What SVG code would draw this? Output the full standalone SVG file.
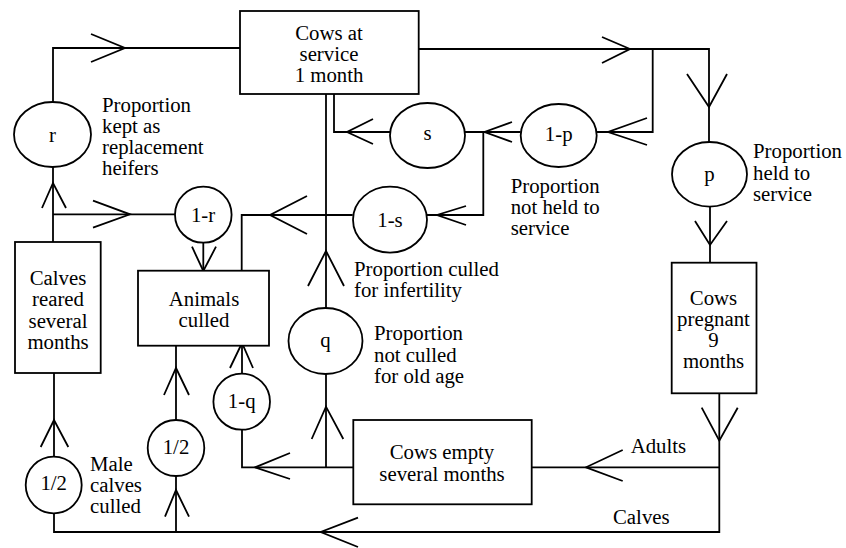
<svg xmlns="http://www.w3.org/2000/svg" width="846" height="548" viewBox="0 0 846 548">
<style>
.s{fill:none;stroke:#000;stroke-width:1.8}
.n{fill:#fff;stroke:#000;stroke-width:1.8}
.c{text-anchor:middle}
.t{font-family:"Liberation Serif","Times New Roman","DejaVu Serif",serif;font-size:20.8px;fill:#000}
</style>
<rect width="846" height="548" fill="#fff"/>
<g id="connectors" class="s">
<path d="M53,102V48H240"/><path d="M91,34L125,48L91,62"/>
<path d="M418.7,49H709V142"/><path d="M602,37L630,49L602,63"/><path d="M687,74L709,107L727,74"/>
<path d="M652.7,49V132H596.7"/><path d="M647,118L608,132L647,145"/>
<path d="M520.7,132H465"/><path d="M512,122L484.5,132L512,142"/>
<path d="M483.3,132V215H427"/><path d="M466,206L437,215L466,225"/>
<path d="M390,132H334V94"/><path d="M373,119L347,132L373,144"/>
<path d="M352.7,215H241.7V270.7"/><path d="M307,196L270,215L307,234"/>
<path d="M326,308V94"/><path d="M308,286L326,251L344,286"/>
<path d="M53,242V167"/><path d="M42,208L53,183L66,208"/>
<path d="M53,214.3H175"/><path d="M93,200.7L130,214.3L93,227.7"/>
<path d="M203.3,242.7V270.7"/><path d="M192,246.7L203.3,271L216,246.7"/>
<path d="M176,420V345.7"/><path d="M164,395L176,368L189,395"/>
<path d="M176,532V476"/><path d="M165,516.7L176,490L189,516.7"/>
<path d="M242,374V345.7"/><path d="M230,368L242,343L253,368"/>
<path d="M353.3,467.3H242V429.7"/><path d="M290,453L255,467.3L290,479"/>
<path d="M326,467.3V374"/><path d="M311.7,439L326,406.7L343.3,439"/>
<path d="M719.3,393.3V532H54V513.3"/><path d="M701.7,407.7L719.3,440.7L737.7,407.7"/><path d="M358,517.7L320.7,532L358,547"/>
<path d="M719.3,467.3H531.7"/><path d="M622.7,450L586,467.3L622.7,481"/>
<path d="M54,456.7V373"/><path d="M40.7,447L54,420L68.3,447"/>
<path d="M710,206.6V262.7"/><path d="M695,221L710,245L727,221"/>
</g>
<g class="t">
<g id="cows-at-service"><rect class="n" x="240" y="11" width="178.7" height="83"/><text class="c" x="329" y="40">Cows at</text><text class="c" x="329" y="61">service</text><text class="c" x="329" y="82">1 month</text></g>
<g id="calves-reared"><rect class="n" x="15" y="242" width="85.7" height="131"/><text class="c" x="58" y="285">Calves</text><text class="c" x="58" y="306">reared</text><text class="c" x="58" y="327.5">several</text><text class="c" x="58" y="348.5">months</text></g>
<g id="animals-culled"><rect class="n" x="138" y="270.7" width="131" height="75"/><text class="c" x="204" y="306">Animals</text><text class="c" x="204" y="327">culled</text></g>
<g id="cows-pregnant"><rect class="n" x="671.7" y="262.7" width="84.8" height="130.6"/><text class="c" x="713.5" y="305">Cows</text><text class="c" x="713.5" y="326">pregnant</text><text class="c" x="713.5" y="347">9</text><text class="c" x="713.5" y="368.3">months</text></g>
<g id="cows-empty"><rect class="n" x="353.3" y="420" width="178.4" height="84.3"/><text class="c" x="442" y="459">Cows empty</text><text class="c" x="442" y="480.5">several months</text></g>
<g id="r"><ellipse class="n" cx="52.5" cy="134.5" rx="38.5" ry="32.5"/><text class="c" x="52.5" y="141.5">r</text></g>
<g id="s"><ellipse class="n" cx="427.5" cy="135.5" rx="37.5" ry="32.5"/><text class="c" x="427.5" y="140">s</text></g>
<g id="one-minus-p"><ellipse class="n" cx="558.7" cy="135.5" rx="38" ry="31.5"/><text class="c" x="558.7" y="141">1-p</text></g>
<g id="p"><ellipse class="n" cx="709.5" cy="174.3" rx="37.5" ry="32.3"/><text class="c" x="709.5" y="181">p</text></g>
<g id="one-minus-s"><ellipse class="n" cx="390" cy="219.7" rx="37" ry="33"/><text class="c" x="390" y="226.5">1-s</text></g>
<g id="one-minus-r"><ellipse class="n" cx="203.3" cy="214.7" rx="28.3" ry="28"/><text class="c" x="203" y="221.7">1-r</text></g>
<g id="q"><ellipse class="n" cx="325.5" cy="341" rx="37" ry="33"/><text class="c" x="325.5" y="346.5">q</text></g>
<g id="one-minus-q"><ellipse class="n" cx="241.7" cy="401.7" rx="28.3" ry="28"/><text class="c" x="241.7" y="408.3">1-q</text></g>
<g id="half-mid"><ellipse class="n" cx="176" cy="448" rx="28.3" ry="28"/><text class="c" x="176" y="454">1/2</text></g>
<g id="half-left"><ellipse class="n" cx="53.7" cy="485" rx="28" ry="28.3"/><text class="c" x="53.7" y="490">1/2</text></g>
<g id="labels">
<text x="102" y="112">Proportion</text><text x="102" y="133">kept as</text><text x="102" y="154">replacement</text><text x="102" y="175">heifers</text>
<text x="753" y="158">Proportion</text><text x="753" y="179.5">held to</text><text x="753" y="201">service</text>
<text x="510.7" y="192.5">Proportion</text><text x="510.7" y="213.5">not held to</text><text x="510.7" y="234.5">service</text>
<text x="354" y="276">Proportion culled</text><text x="354" y="297.3">for infertility</text>
<text x="374" y="340">Proportion</text><text x="374" y="361.5">not culled</text><text x="374" y="382.7">for old age</text>
<text x="90" y="470.7">Male</text><text x="90" y="491.7">calves</text><text x="90" y="512.7">culled</text>
<text x="630.7" y="453.3">Adults</text>
<text x="613" y="524">Calves</text>
</g>
</g>
</svg>
